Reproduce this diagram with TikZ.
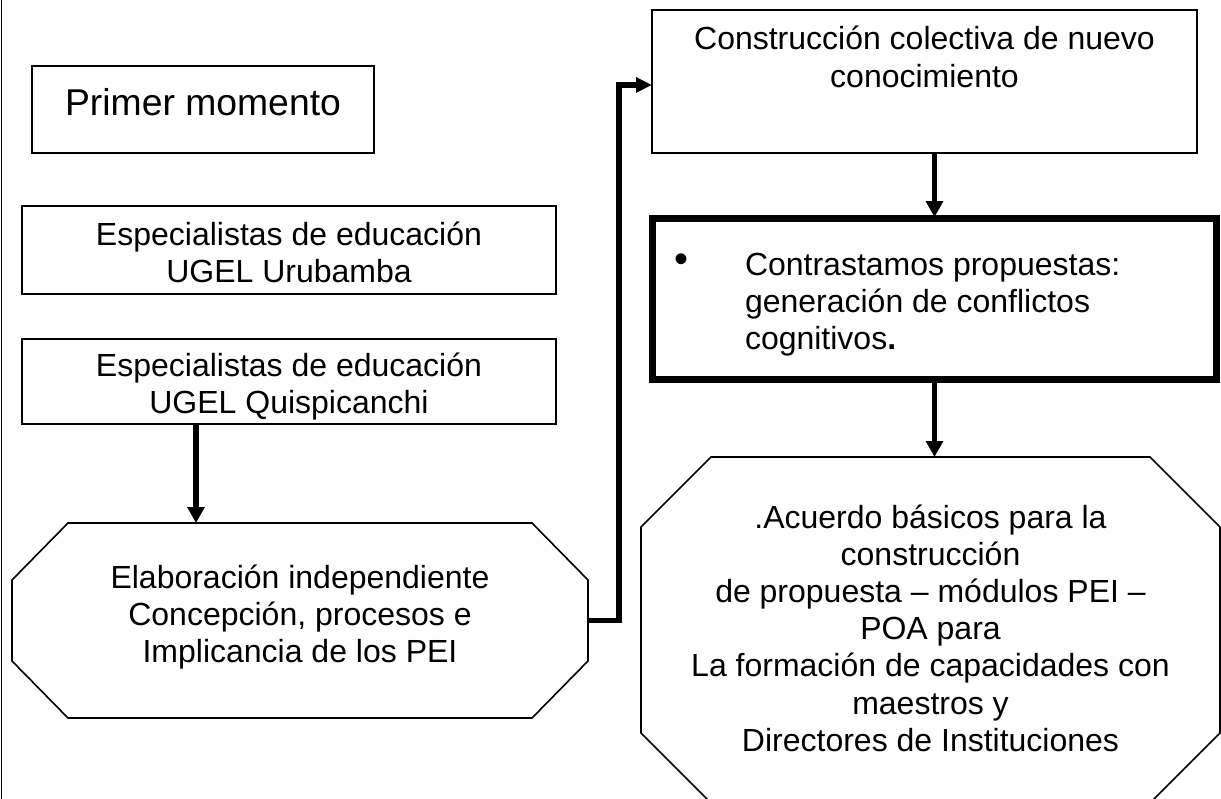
\documentclass[tikz,border=0pt]{standalone}
\usepackage{fontspec}
\setmainfont{Liberation Sans}
\usetikzlibrary{arrows.meta,calc}

\newcommand\drawchamfer[3]{%
  \draw[thinline] ($(#1.north west)+(#2,0)$) -- ($(#1.north east)+(-#2,0)$)
    -- ($(#1.north east)+(0,#3)$) -- ($(#1.south east)+(0,-#3)$)
    -- ($(#1.south east)+(-#2,0)$) -- ($(#1.south west)+(#2,0)$)
    -- ($(#1.south west)+(0,-#3)$) -- ($(#1.north west)+(0,#3)$) -- cycle;}

\begin{document}
\begin{tikzpicture}[x=0.75pt,y=-0.75pt,
  every node/.style={inner sep=0pt,outer sep=0pt},
  thinline/.style={line width=1.2pt,line join=miter},
  thinbox/.style={draw,thinline,rectangle},
  thickbox/.style={draw,line width=5.25pt,rectangle},
  shapebox/.style={rectangle},
  txt/.style={font=\fontsize{24}{28}\selectfont,anchor=base},
  arr/.style={line width=3.9pt,-{Triangle[length=12pt,width=12.5pt]}},
  conn/.style={line width=4.2pt,line join=miter,-{Triangle[length=12pt,width=11pt]}}
]
\useasboundingbox (0,0) rectangle (1221,799);

% left border line
\coordinate (lt) at (1.5,0);
\coordinate (lb) at (1.5,799);
\draw[thinline] (lt) -- (lb);

% boxes
\node[thinbox,minimum width=256.5pt,minimum height=65.25pt] (primer) at (203,109.5) {};
\node[thinbox,minimum width=400.5pt,minimum height=66pt] (uru) at (289,250) {};
\node[thinbox,minimum width=400.5pt,minimum height=63.75pt] (quis) at (289,381.5) {};
\node[thinbox,minimum width=408.75pt,minimum height=107.25pt] (constr) at (924.5,81.5) {};
\node[thickbox,minimum width=423pt,minimum height=120.75pt] (thick) at (934.5,299) {};
\node[shapebox,minimum width=432pt,minimum height=146.25pt] (elab) at (300,620.5) {};
\node[shapebox,minimum width=434.25pt,minimum height=259.5pt] (acu) at (930.5,630) {};
\drawchamfer{elab}{56}{57}
\drawchamfer{acu}{70}{70}

% texts
\node[txt,font=\fontsize{28}{32}\selectfont] (primertxt) at (203,115) {Primer momento};
\node[txt] (urutxt) at (289,245) {\begin{tabular}[t]{@{}c@{}}Especialistas de educación\\UGEL Urubamba\end{tabular}};
\begin{scope}
\clip ([yshift=1.5pt]quis.south west) rectangle (quis.north east);
\node[txt] (quistxt) at (289,376.5) {\begin{tabular}[t]{@{}c@{}}Especialistas de educación\\UGEL Quispicanchi\end{tabular}};
\end{scope}
\node[txt] (constrtxt) at (924.5,50) {\begin{tabular}[t]{@{}c@{}}Construcción colectiva de nuevo\\conocimiento\end{tabular}};
\node[txt,font=\fontsize{30}{30}\selectfont] (bul) at (681,272) {•};
\node[txt,anchor=base west] (contxt) at (745,275) {\begin{tabular}[t]{@{}l@{}}Contrastamos propuestas:\\generación de conflictos\\cognitivos\textbf{.}\end{tabular}};
\node[txt,font=\fontsize{24}{27.75}\selectfont] (elabtxt) at (300,588) {\begin{tabular}[t]{@{}c@{}}Elaboración independiente\\Concepción, procesos e\\Implicancia de los PEI\end{tabular}};
\node[txt,font=\fontsize{24}{27.9}\selectfont] (acutxt) at (930.5,528) {\begin{tabular}[t]{@{}c@{}}.Acuerdo básicos para la\\construcción\\de propuesta – módulos PEI –\\POA para\\La formación de capacidades con\\maestros y\\Directores de Instituciones\end{tabular}};

% connectors
\draw[arr] ($(quis.south west)+(174,0)$) -- ($(elab.north west)+(184,0)$);
\coordinate (bend) at (619,620.5);
\draw[conn] (elab.east) -- (bend) |- ([yshift=-2.6pt]constr.west);
\draw[arr] (constr.south -| thick.north) -- ([yshift=1pt]thick.north);
\draw[arr] ([yshift=-2pt]thick.south) -- (thick.south |- acu.north);
\end{tikzpicture}
\end{document}
